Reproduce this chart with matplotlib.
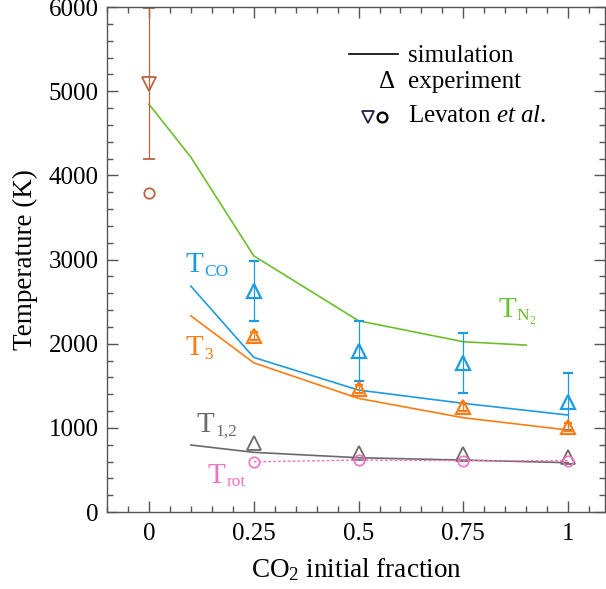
import matplotlib
matplotlib.use("Agg")
import matplotlib.pyplot as plt
from matplotlib.ticker import MultipleLocator
from matplotlib.transforms import offset_copy

plt.rcParams['font.family'] = ['Liberation Serif', 'DejaVu Serif']
plt.rcParams['mathtext.fontset'] = 'custom'
plt.rcParams['mathtext.rm'] = 'Liberation Serif'
plt.rcParams['mathtext.it'] = 'Liberation Serif:italic'

# simulation lines
x_n2 = [0, 0.1, 0.25, 0.5, 0.75, 0.9]
t_n2 = [4846, 4216, 3044, 2272, 2023, 1983]
x_sim = [0.1, 0.25, 0.5, 0.75, 1.0]
t_co = [2684, 1837, 1449, 1291, 1152]
t_3 = [2331, 1773, 1350, 1120, 974]
t_12 = [796, 709, 645, 617, 586]

# experiment
x_exp = [0.25, 0.5, 0.75, 1.0]
e_co = [2625, 1915, 1770, 1310]
e_co_err = [360, 360, 356, 340]
e_3 = [2090, 1460, 1250, 1013]
e_3_err = [50, 50, 50, 50]
e_12 = [815, 700, 690, 657]
e_rot = [597, 617, 610, 610]

# Levaton et al.
lev_x = [0]
lev_tri = [5090]
lev_tri_err = [900]
lev_circ = [3792]

c_green = '#6cbf2c'
c_blue = '#1d9be0'
c_orange = '#fb7d12'
c_gray = '#6a6a6a'
c_pink = '#f472c4'
c_brown = '#b8653f'

fig = plt.figure(figsize=(6.06, 5.89), dpi=100)
ax = fig.add_axes([0.1766, 0.1307, 0.8218, 0.8574])

lw = 1.2
ax.plot(x_n2, t_n2, color=c_green, lw=lw)
ax.plot(x_sim, t_co, color=c_blue, lw=lw)
ax.plot(x_sim, t_3, color=c_orange, lw=lw)
ax.plot(x_sim, t_12, color=c_gray, lw=lw)

ms = 10.5
ax.errorbar(x_exp, e_co, yerr=e_co_err, fmt='^', mfc='none', mec=c_blue, ecolor=c_blue,
            ms=ms, mew=1.6, elinewidth=0.9, capsize=3.3, capthick=0.9)
ax.errorbar(x_exp, e_3, yerr=e_3_err, fmt='^', mfc='none', mec=c_orange, ecolor=c_orange,
            ms=ms - 1, mew=1.6, elinewidth=0.9, capsize=3, capthick=0.9)
ax.plot(x_exp, e_12, '^', mfc='none', mec=c_gray, ms=ms - 1, mew=1.3)
ax.plot(x_exp, e_rot, 'o', ls=(0, (2, 1.5)), color=c_pink, mfc='none', mec=c_pink, ms=7.5, mew=1.2, lw=1.0)

ax.errorbar(lev_x, lev_tri, yerr=lev_tri_err, fmt='v', mfc='none', mec=c_brown, ecolor=c_brown,
            ms=ms, mew=1.3, elinewidth=0.9, capsize=4, capthick=0.9)
ax.plot(lev_x, lev_circ, 'o', mfc='none', mec=c_brown, ms=7.5, mew=1.3)

# curve labels: big T with smaller subscript
fig.canvas.draw()
renderer = fig.canvas.get_renderer()


def tlabel(x, y, sub, color, subsub=None):
    t = ax.text(x, y, 'T', color=color, fontsize=21, va='baseline')
    w = t.get_window_extent(renderer).width * 72 / fig.dpi
    tr = offset_copy(ax.transData, fig=fig, x=w + 0.5, y=-2.5, units='points')
    s = ax.text(x, y, sub, color=color, fontsize=12.5, va='baseline', transform=tr)
    if subsub is not None:
        w2 = s.get_window_extent(renderer).width * 72 / fig.dpi
        tr2 = offset_copy(ax.transData, fig=fig, x=w + 1 + w2, y=-5, units='points')
        ax.text(x, y, subsub, color=color, fontsize=8.5, va='baseline', transform=tr2)


tlabel(0.0883, 2851, 'CO', c_blue)
tlabel(0.0883, 1865, '3', c_orange)
tlabel(0.833, 2317, 'N', c_green, subsub='2')
tlabel(0.1146, 950, '1,2', c_gray)
tlabel(0.1408, 345, 'rot', c_pink)

# legend
lf = 18
ax.plot([0.486, 0.584], [0.907, 0.907], transform=ax.transAxes, color='black', lw=1.2)
ax.text(0.6044, 0.891, 'simulation', transform=ax.transAxes, fontsize=lf, va='baseline')
ax.text(0.546, 0.8396, 'Δ', transform=ax.transAxes, fontsize=lf, va='baseline')
ax.text(0.6044, 0.8396, 'experiment', transform=ax.transAxes, fontsize=lf, va='baseline')
ax.plot([0.525], [0.783], 'v', transform=ax.transAxes, mfc='none', mec='#20224a', ms=8.5, mew=1.3)
ax.plot([0.553], [0.783], 'o', transform=ax.transAxes, mfc='none', mec='black', ms=7, mew=1.7)
ax.text(0.6044, 0.772, r'Levaton $\mathit{et\ al.}$', transform=ax.transAxes, fontsize=lf, va='baseline')

ax.set_xlim(-0.1, 1.088)
ax.set_ylim(0, 6000)
ax.set_xticks([0, 0.25, 0.5, 0.75, 1])
ax.set_xticklabels(['0', '0.25', '0.5', '0.75', '1'])
ax.xaxis.set_minor_locator(MultipleLocator(0.05))
ax.yaxis.set_major_locator(MultipleLocator(1000))
ax.yaxis.set_minor_locator(MultipleLocator(200))
ax.tick_params(which='both', direction='in', top=True, right=True, colors='#555555',
               labelcolor='black', labelsize=18, width=1.0)
ax.tick_params(which='major', length=8)
ax.tick_params(which='minor', length=4)
ax.tick_params(axis='x', which='major', pad=8)
ax.tick_params(axis='y', which='major', pad=6)
for s in ax.spines.values():
    s.set_color('#555555')
    s.set_linewidth(1.0)

ax.set_xlabel(r'CO$_2$ initial fraction', fontsize=19.5, labelpad=8)
ax.set_ylabel('Temperature (K)', fontsize=19.5, labelpad=8)

fig.savefig('out.png', dpi=100)
